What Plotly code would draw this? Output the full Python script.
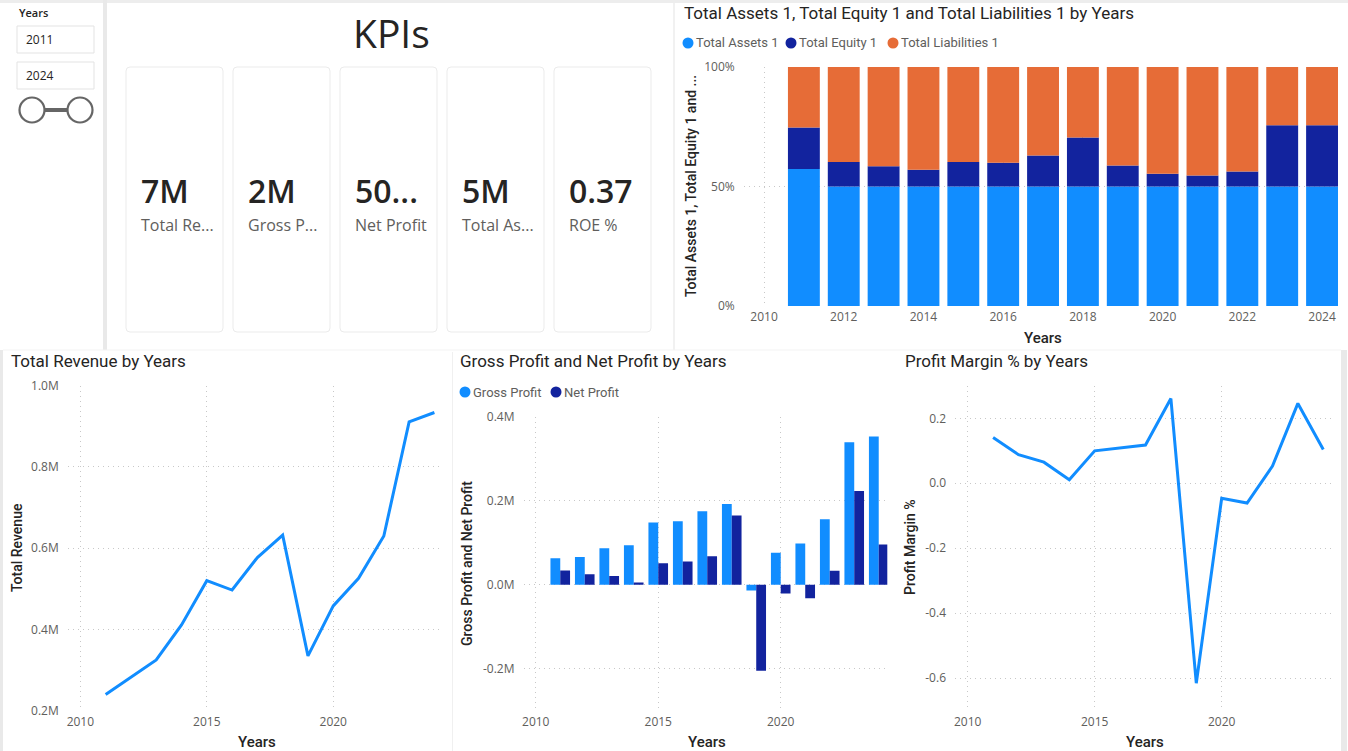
import numpy as np
import plotly.graph_objects as go

W, H = 1348, 751

# ---------------- data ----------------
years = [2011, 2012, 2013, 2014, 2015, 2016, 2017, 2018, 2019, 2020, 2021, 2022, 2023, 2024]

# 100% stacked shares (percent of column total)
assets_share = [57.3, 50.0, 50.0, 50.0, 50.0, 50.0, 50.0, 50.0, 50.0, 50.0, 50.0, 50.0, 50.0, 50.0]
equity_share = [17.4, 10.3, 8.5, 7.0, 10.3, 9.9, 13.0, 20.5, 8.8, 5.3, 4.6, 6.3, 25.6, 25.6]
liabilities_share = [25.3, 39.7, 41.5, 43.0, 39.7, 40.1, 37.0, 29.5, 41.2, 44.7, 45.4, 43.7, 24.4, 24.4]

revenue_m = [0.240, 0.283, 0.325, 0.411, 0.520, 0.497, 0.577, 0.632, 0.335, 0.458, 0.526, 0.630, 0.911, 0.934]
gross_profit_m = [0.063, 0.066, 0.087, 0.094, 0.148, 0.151, 0.175, 0.192, -0.014, 0.076, 0.098, 0.156, 0.339, 0.353]
net_profit_m = [0.034, 0.025, 0.021, 0.005, 0.051, 0.055, 0.068, 0.165, -0.205, -0.021, -0.032, 0.033, 0.223, 0.096]
profit_margin = [0.141, 0.088, 0.065, 0.011, 0.100, 0.110, 0.118, 0.261, -0.616, -0.046, -0.061, 0.053, 0.246, 0.104]

kpi_values = ["7M", "2M", "50...", "5M", "0.37"]
kpi_labels = ["Total Re...", "Gross P...", "Net Profit", "Total As...", "ROE %"]

slicer_from, slicer_to = "2011", "2024"

share_ticks = [0, 50, 100]
share_tick_labels = ["0%", "50%", "100%"]
rev_ticks = [0.2, 0.4, 0.6, 0.8, 1.0]
rev_tick_labels = ["0.2M", "0.4M", "0.6M", "0.8M", "1.0M"]
gp_ticks = [-0.2, 0.0, 0.2, 0.4]
gp_tick_labels = ["-0.2M", "0.0M", "0.2M", "0.4M"]
pm_ticks = [-0.6, -0.4, -0.2, 0.0, 0.2]
pm_tick_labels = ["-0.6", "-0.4", "-0.2", "0.0", "0.2"]
year_ticks_2 = [2010, 2012, 2014, 2016, 2018, 2020, 2022, 2024]
year_ticks_5 = [2010, 2015, 2020]

# ---------------- style ----------------
BLUE = "#118DFF"
NAVY = "#12239E"
ORANGE = "#E66C37"
DARK = "#252423"
GRAY = "#605E5C"
GRID = "#C8C8C8"
GRID_DASH = "1px,4px"
TITLE_FONT = "Roboto"
TICK_FONT = "Open Sans"


def px(x):
    return x / W


def py(y):
    return 1 - y / H


fig = go.Figure()

# ---------------- stacked 100% bars ----------------
a = np.array(assets_share)
e = np.array(equity_share)
l = np.array(liabilities_share)
for name, vals, base, col in [
    ("Total Assets 1", a, np.zeros_like(a), BLUE),
    ("Total Equity 1", e, a, NAVY),
    ("Total Liabilities 1", l, a + e, ORANGE),
]:
    fig.add_trace(go.Bar(x=years, y=vals, base=base, name=name, marker_color=col,
                         marker_line_width=0, offsetgroup="stack",
                         xaxis="x", yaxis="y"))

# ---------------- revenue line ----------------
fig.add_trace(go.Scatter(x=years, y=revenue_m, mode="lines", line=dict(color=BLUE, width=3),
                         xaxis="x2", yaxis="y2", name="Total Revenue"))

# ---------------- gross / net profit ----------------
fig.add_trace(go.Bar(x=years, y=gross_profit_m, name="Gross Profit", marker_color=BLUE,
                     marker_line_width=0, xaxis="x3", yaxis="y3"))
fig.add_trace(go.Bar(x=years, y=net_profit_m, name="Net Profit", marker_color=NAVY,
                     marker_line_width=0, xaxis="x3", yaxis="y3"))

# ---------------- profit margin ----------------
fig.add_trace(go.Scatter(x=years, y=profit_margin, mode="lines", line=dict(color=BLUE, width=3),
                         xaxis="x4", yaxis="y4", name="Profit Margin %"))

tickfont = dict(family=TICK_FONT, size=12, color=GRAY)


def xax(dom, rng, ticks, anchor):
    return dict(domain=[px(dom[0]), px(dom[1])], range=rng, tickvals=ticks,
                ticktext=[str(t) for t in ticks], showgrid=True, gridcolor=GRID,
                griddash=GRID_DASH, gridwidth=1, zeroline=False, showline=False,
                ticks="", tickfont=tickfont, anchor=anchor, ticklabelstandoff=2,
                fixedrange=True, automargin=False)


def yax(dom, rng, ticks, labels, anchor):
    return dict(domain=[py(dom[1]), py(dom[0])], range=rng, tickvals=ticks,
                ticktext=labels, showgrid=True, gridcolor=GRID, griddash=GRID_DASH,
                gridwidth=1, zeroline=False, showline=False, ticks="",
                tickfont=tickfont, anchor=anchor, ticklabelstandoff=8,
                fixedrange=True, automargin=False)


fig.update_layout(
    width=W, height=H, autosize=False,
    margin=dict(l=0, r=0, t=0, b=0, pad=0, autoexpand=False),
    paper_bgcolor="white", plot_bgcolor="rgba(0,0,0,0)",
    showlegend=False, barmode="group", bargap=0.2, bargroupgap=0.0,
    xaxis=xax((743.7, 1338), [2009.49, 2024.4], year_ticks_2, "y"),
    yaxis=yax((67, 306), [0, 100], share_ticks, share_tick_labels, "x"),
    xaxis2=xax((67.7, 442), [2009.5, 2024.3], year_ticks_5, "y2"),
    yaxis2=yax((385.7, 710.7), [0.2, 1.0], rev_ticks, rev_tick_labels, "x2"),
    xaxis3=xax((523.5, 887.3), [2009.5, 2024.35], year_ticks_5, "y3"),
    yaxis3=yax((416.7, 710.7), [-0.3, 0.4], gp_ticks, gp_tick_labels, "x3"),
    xaxis4=xax((955, 1330.9), [2009.5, 2024.3], year_ticks_5, "y4"),
    yaxis4=yax((385.9, 710.5), [-0.7, 0.3], pm_ticks, pm_tick_labels, "x4"),
)

annotations = []
shapes = []


def text(x, y, s, size, color=DARK, family=TITLE_FONT, xanchor="left", angle=0, weight="normal"):
    annotations.append(dict(x=px(x), y=py(y), xref="paper", yref="paper", text=s,
                            showarrow=False, xanchor=xanchor, yanchor="middle",
                            textangle=angle,
                            font=dict(size=size, color=color, family=family, weight=weight)))


def rect(x0, y0, x1, y1, fill=None, line=None, lw=1, layer="below"):
    shapes.append(dict(type="rect", xref="paper", yref="paper", x0=px(x0), x1=px(x1),
                       y0=py(y1), y1=py(y0), fillcolor=fill or "rgba(0,0,0,0)",
                       line=dict(color=line or "rgba(0,0,0,0)", width=lw if line else 0),
                       layer=layer))


def rrect(x0, y0, x1, y1, r, line, lw=1):
    path = (f"M {px(x0 + r)},{py(y0)} L {px(x1 - r)},{py(y0)} "
            f"Q {px(x1)},{py(y0)} {px(x1)},{py(y0 + r)} L {px(x1)},{py(y1 - r)} "
            f"Q {px(x1)},{py(y1)} {px(x1 - r)},{py(y1)} L {px(x0 + r)},{py(y1)} "
            f"Q {px(x0)},{py(y1)} {px(x0)},{py(y1 - r)} L {px(x0)},{py(y0 + r)} "
            f"Q {px(x0)},{py(y0)} {px(x0 + r)},{py(y0)} Z")
    shapes.append(dict(type="path", xref="paper", yref="paper", path=path,
                       line=dict(color=line, width=lw), fillcolor="rgba(0,0,0,0)", layer="below"))


def circle(cx, cy, r, fill=None, line=None, lw=0):
    shapes.append(dict(type="circle", xref="paper", yref="paper",
                       x0=px(cx - r), x1=px(cx + r), y0=py(cy + r), y1=py(cy - r),
                       fillcolor=fill or "rgba(0,0,0,0)",
                       line=dict(color=line or "rgba(0,0,0,0)", width=lw), layer="above"))


# ---------------- page separators ----------------
rect(0, 0, W, 3, fill="#EDEDED")
rect(103, 0, 107, 350, fill="#E9E9E9")
rect(673, 3, 675, 350, fill="#F1F1F1")
rect(0, 350, 3, H, fill="#E9E9E9")
rect(1341, 350, 1347, H, fill="#E9E9E9")
rect(452, 352, 453, H, fill="#F0F0F0")
rect(3, 349.5, 1341, 350.5, fill="#F3F3F3")

# ---------------- slicer ----------------
text(17, 13, "Years", 11, DARK, "Open Sans", weight=600)
rect(17, 26, 94, 53, line="#E3E3E3")
rect(17, 62, 94, 89, line="#E3E3E3")
text(24, 39, slicer_from, 12, DARK, "Open Sans")
text(24, 75, slicer_to, 12, DARK, "Open Sans")
shapes.append(dict(type="line", xref="paper", yref="paper", x0=px(44), x1=px(68),
                   y0=py(110), y1=py(110), line=dict(color="#666666", width=4)))
circle(32, 110, 12.5, fill="white", line="#666666", lw=2.2)
circle(80, 110, 12.5, fill="white", line="#666666", lw=2.2)

# ---------------- KPI cards ----------------
annotations.append(dict(x=px(391), y=py(4), xref="paper", yref="paper", text="KPIs",
                        showarrow=False, xanchor="center", yanchor="top",
                        font=dict(size=39, color=DARK, family="Open Sans")))
card_x = [126, 233, 340, 447, 554]
for cx, v, lab in zip(card_x, kpi_values, kpi_labels):
    rrect(cx, 67, cx + 97, 332, 4, "#EBEBEB")
    text(cx + 13, 190, v, 32, DARK, "Open Sans", weight=600)
    text(cx + 13, 225, lab, 16, GRAY, "Open Sans")

# ---------------- titles ----------------
text(682, 13, "Total Assets 1, Total Equity 1 and Total Liabilities 1 by Years", 17)
text(9, 361, "Total Revenue by Years", 17)
text(458, 361, "Gross Profit and Net Profit by Years", 17)
text(903, 361, "Profit Margin % by Years", 17)

# ---------------- legends ----------------
for cx, lab, col in [(688, "Total Assets 1", BLUE), (791, "Total Equity 1", NAVY),
                     (893, "Total Liabilities 1", ORANGE)]:
    circle(cx, 43, 5.5, fill=col)
    text(cx + 6, 43, lab, 13, GRAY)
for cx, lab, col in [(465, "Gross Profit", BLUE), (556, "Net Profit", NAVY)]:
    circle(cx, 392, 5.5, fill=col)
    text(cx + 6, 392, lab, 13, GRAY)

# ---------------- axis titles ----------------
text(1043, 338, "Years", 15, xanchor="center", weight=500)
text(691, 186, "Total Assets 1, Total Equity 1 and ...", 14, xanchor="center", angle=-90, weight=500)
text(257, 742, "Years", 15, xanchor="center", weight=500)
text(17, 548, "Total Revenue", 14, xanchor="center", angle=-90, weight=500)
text(707, 742, "Years", 15, xanchor="center", weight=500)
text(467, 564, "Gross Profit and Net Profit", 14, xanchor="center", angle=-90, weight=500)
text(1145, 742, "Years", 15, xanchor="center", weight=500)
text(910, 547, "Profit Margin %", 14, xanchor="center", angle=-90, weight=500)

fig.update_layout(annotations=annotations, shapes=shapes)
fig.write_html(
    "out.html",
    post_script="document.body.style.margin='0';document.body.style.overflow='hidden';",
)
